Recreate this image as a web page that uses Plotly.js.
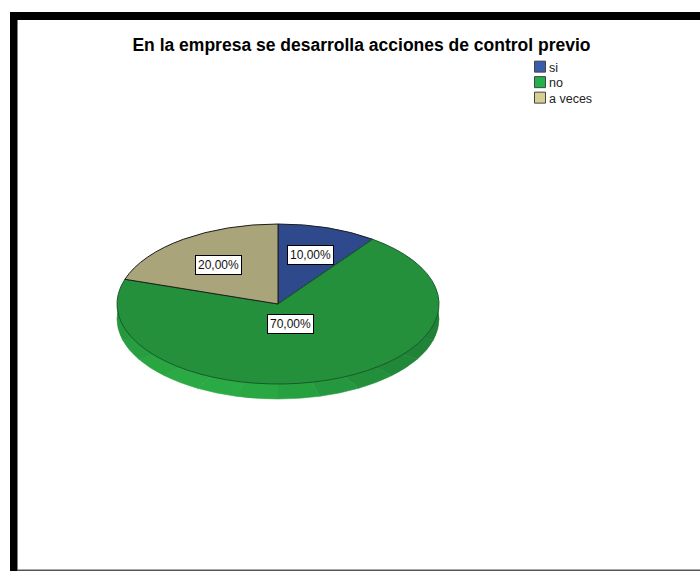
<!DOCTYPE html>
<html>
<head>
<meta charset="utf-8">
<script src="https://cdn.plot.ly/plotly-3.0.1.min.js"></script>
<style>html,body{margin:0;padding:0;background:#fff}#chart{width:700px;height:571px}</style>
</head>
<body>
<div id="chart"></div>
<script>
const titleText = 'En la empresa se desarrolla acciones de control previo';
const categories = ['si', 'no', 'a veces'];
const values = [10, 70, 20];
const sliceColors = ['#2f4a8c', '#24903c', '#a9a47a'];
const sliceEdges = ['#1c1c1c', '#1a5a2c', '#1c1c1c'];
const legendColors = ['#3a5cab', '#22b24c', '#d6cf94'];
const rimValues = [1,1,1,1,1,1,1,1,1,1,1,1,1,1,1,1,1,1,1,1,1,1,1,1];
const rimColors = ['#1f7f35','#1f7f35','#1f7f35','#1f7f35','#1f7f35','#1f7f35',
  '#1f8036','#208337','#218839','#238f3b','#25973e','#27a040',
  '#29a743','#2aaa44','#2aa944','#29a542','#279e40','#25973e',
  '#239039','#218a38','#208437','#1f8036','#1f7f35','#1f7f35'];

const W = 700, H = 571;
const cx = 278, cy = 304, rx = 161, ry = 80, depth = 15;
const fmt = v => (v / values.reduce((a, b) => a + b, 0) * 100).toFixed(2).replace('.', ',') + '%';
const dom = c => ({
  x: [(cx - rx) / W, (cx + rx) / W],
  y: [(H - c - rx) / H, (H - c + rx) / H]
});
const px = x => x / W, py = y => 1 - y / H;

const data = [
  { type: 'pie', values: rimValues, labels: rimValues.map((_, i) => 'r' + i), sort: false,
    direction: 'clockwise', rotation: 0, textinfo: 'none', hoverinfo: 'skip', showlegend: false,
    marker: { colors: rimColors, line: { color: rimColors, width: 0.6 } }, domain: dom(cy + depth) },
  { type: 'pie', values: values, labels: categories, sort: false, direction: 'clockwise', rotation: 0,
    textinfo: 'none', hoverinfo: 'label+percent', showlegend: true,
    marker: { colors: sliceColors, line: { color: sliceEdges, width: 1 } }, domain: dom(cy) }
];

const labelPos = [[310, 255], [290.5, 323.5], [219, 264.5]];
const rect = (x0, y0, x1, y1, c) => ({ type: 'rect', xref: 'paper', yref: 'paper',
  x0: px(x0), x1: px(x1), y0: py(y0), y1: py(y1), fillcolor: c, line: { width: 0 } });

const layout = {
  width: W, height: H, margin: { l: 0, r: 0, t: 0, b: 0 },
  paper_bgcolor: '#fff', plot_bgcolor: '#fff',
  font: { family: '"Liberation Sans", Arial, sans-serif', color: '#000' },
  title: { text: '<b>' + titleText + '</b>', x: 361.5 / W, xref: 'paper', xanchor: 'center',
    y: py(45), yref: 'container', yanchor: 'middle', font: { size: 17.5, color: '#000' } },
  legend: { x: px(520), y: py(52), xanchor: 'left', yanchor: 'top', bgcolor: 'rgba(0,0,0,0)',
    font: { size: 12.5, color: '#222' }, itemwidth: 30 },
  shapes: [
    rect(10, 12, 17.5, 571, '#000'),
    rect(10, 12, 700, 20, '#000'),
    rect(17, 569.5, 700, 571, '#555')
  ],
  annotations: categories.map((c, i) => ({
    xref: 'paper', yref: 'paper', x: px(labelPos[i][0]), y: py(labelPos[i][1]),
    xanchor: 'center', yanchor: 'middle', showarrow: false, text: fmt(values[i]),
    font: { size: 12, color: '#111' }, bgcolor: '#fff', bordercolor: '#000', borderwidth: 1, borderpad: 2
  }))
};

Plotly.newPlot('chart', data, layout, { displayModeBar: false, staticPlot: true }).then(() => {
  const k = ry / rx;
  const centers = [cy + depth, cy];
  document.querySelectorAll('.pielayer .trace').forEach((t, i) => {
    const c = centers[i];
    t.setAttribute('transform', `translate(0,${c}) scale(1,${k}) translate(0,${-c})`);
    t.querySelectorAll('path').forEach(p => p.setAttribute('vector-effect', 'non-scaling-stroke'));
  });
  const rows = document.querySelectorAll('.legend .traces');
  const firstY = rows.length ? parseFloat((rows[0].getAttribute('transform') || '').split(',')[1]) || 0 : 0;
  rows.forEach((g, i) => {
    g.setAttribute('transform', `translate(0,${firstY + i * 15.5})`);
    const p = g.querySelector('.legendpoints path');
    if (p) {
      p.setAttribute('d', 'M5.5,5.5H-5.5V-5.5H5.5Z');
      p.style.fill = legendColors[i];
      p.style.stroke = '#444';
      p.style.strokeWidth = '1px';
    }
    const t = g.querySelector('text.legendtext');
    if (t) t.setAttribute('x', 29);
  });
});
</script>
</body>
</html>
